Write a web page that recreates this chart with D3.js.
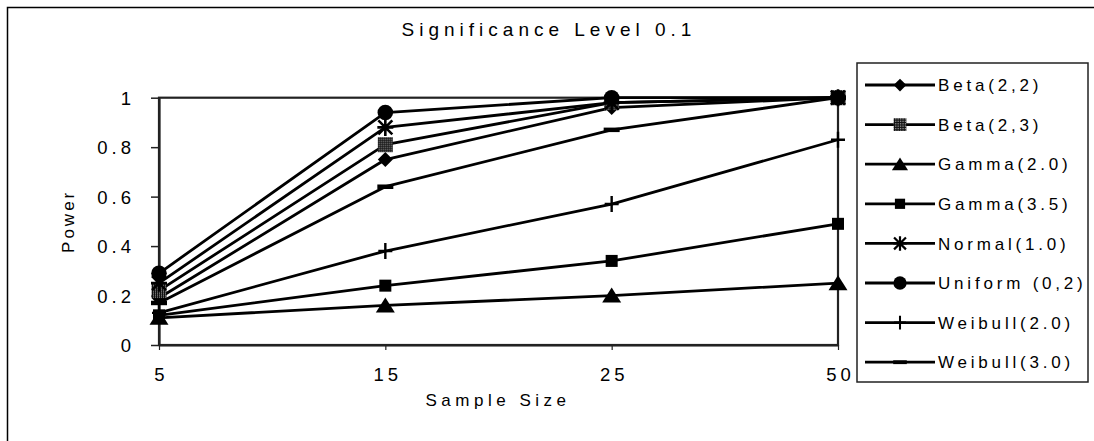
<!DOCTYPE html>
<html><head><meta charset="utf-8">
<script src="https://cdn.jsdelivr.net/npm/d3@7"></script>
<style>
body{margin:0;background:#fff}
svg text{font-family:"Liberation Sans",Arial,sans-serif;fill:#000}
</style>
</head><body>
<svg id="c" width="1094" height="441"></svg>
<script>
// ---- data ----
const categories = ["5", "15", "25", "50"];
const seriesNames = ["Beta(2,2)", "Beta(2,3)", "Gamma(2.0)", "Gamma(3.5)", "Normal(1.0)", "Uniform (0,2)", "Weibull(2.0)", "Weibull(3.0)"];
const beta22    = [0.19, 0.75, 0.96, 1.00];
const beta23    = [0.22, 0.81, 0.98, 1.00];
const gamma20   = [0.11, 0.16, 0.20, 0.25];
const gamma35   = [0.12, 0.24, 0.34, 0.49];
const normal10  = [0.25, 0.88, 0.98, 1.00];
const uniform02 = [0.29, 0.94, 1.00, 1.00];
const weibull20 = [0.13, 0.38, 0.57, 0.83];
const weibull30 = [0.17, 0.64, 0.87, 1.00];
const yTickValues = [0, 0.2, 0.4, 0.6, 0.8, 1];
const yTickLabels = ["0", "0.2", "0.4", "0.6", "0.8", "1"];
const titleText = "Significance Level 0.1";
const xTitle = "Sample Size";
const yTitle = "Power";

const seriesValues = [beta22, beta23, gamma20, gamma35, normal10, uniform02, weibull20, weibull30];
const markerTypes = ["diamond", "patsquare", "triangle", "square", "star", "circle", "plus", "dash"];

// ---- layout ----
const svg = d3.select("#c");
const P = {left: 159, right: 838, top: 97.7, bottom: 345};

const defs = svg.append("defs");
const pat = defs.append("pattern").attr("id", "dith").attr("width", 2).attr("height", 2)
  .attr("patternUnits", "userSpaceOnUse");
pat.append("rect").attr("width", 2).attr("height", 2).attr("fill", "#111");
pat.append("rect").attr("width", 1).attr("height", 1).attr("fill", "#aaa");

// outer chart border (only top and left visible in crop)
svg.append("rect").attr("x", 7.5).attr("y", 7.5).attr("width", 1120).attr("height", 460)
  .attr("fill", "none").attr("stroke", "#000").attr("stroke-width", 1.5);

const x = d3.scalePoint().domain(categories).range([P.left, P.right]);
const y = d3.scaleLinear().domain([0, 1]).range([P.bottom, P.top]);

// plot area border
svg.append("rect").attr("x", P.left).attr("y", P.top)
  .attr("width", P.right - P.left).attr("height", P.bottom - P.top)
  .attr("fill", "none").attr("stroke", "#222").attr("stroke-width", 2.2);

// axes
const yAxis = svg.append("g").attr("transform", `translate(${P.left},0)`)
  .call(d3.axisLeft(y).tickValues(yTickValues).tickFormat((d, i) => yTickLabels[i])
    .tickSize(8).tickSizeOuter(0).tickPadding(16));
yAxis.select(".domain").attr("stroke", "#222").attr("stroke-width", 2.2);
yAxis.selectAll(".tick line").attr("stroke", "#222").attr("stroke-width", 1.5);
yAxis.selectAll(".tick text").attr("font-size", 18.5).style("letter-spacing", "4px")
  .attr("font-family", null).attr("dy", "0.35em");

const xAxis = svg.append("g").attr("transform", `translate(0,${P.bottom})`)
  .call(d3.axisBottom(x).tickSize(5).tickSizeOuter(0).tickPadding(18));
xAxis.select(".domain").attr("stroke", "#222").attr("stroke-width", 2.2);
xAxis.selectAll(".tick line").attr("stroke", "#222").attr("stroke-width", 1.2);
xAxis.selectAll(".tick text").attr("font-size", 18.5).style("letter-spacing", "4px")
  .attr("font-family", null).attr("dx", "2px");

// titles
svg.append("text").attr("x", 549).attr("y", 36).attr("text-anchor", "middle")
  .attr("font-size", 19).style("letter-spacing", "5px").text(titleText);
svg.append("text").attr("x", 498).attr("y", 406).attr("text-anchor", "middle")
  .attr("font-size", 17).style("letter-spacing", "4.5px").text(xTitle);
svg.append("text").attr("transform", `translate(74,${(P.top + P.bottom) / 2}) rotate(-90)`)
  .attr("text-anchor", "middle").attr("font-size", 17).style("letter-spacing", "3px").text(yTitle);

// marker drawing
function drawMarker(g, type, cx, cy, s) {
  const m = g.append("g").attr("transform", `translate(${cx},${cy}) scale(${s})`);
  switch (type) {
    case "diamond":
      m.append("path").attr("d", "M0,-7.5L7.5,0L0,7.5L-7.5,0Z").attr("fill", "#000"); break;
    case "patsquare":
      m.append("rect").attr("x", -7.5).attr("y", -7.5).attr("width", 15).attr("height", 15).attr("fill", "url(#dith)"); break;
    case "triangle":
      m.append("path").attr("d", "M0,-8L9.5,7L-9.5,7Z").attr("fill", "#000"); break;
    case "square":
      m.append("rect").attr("x", -6).attr("y", -6).attr("width", 12).attr("height", 12).attr("fill", "#000"); break;
    case "star":
      m.append("path").attr("d", "M-7,-7L7,7M-7,7L7,-7M0,-8.5L0,8.5M-8,0L8,0").attr("stroke", "#000").attr("stroke-width", 2.6).attr("fill", "none"); break;
    case "circle":
      m.append("circle").attr("r", 7.8).attr("fill", "#000"); break;
    case "plus":
      m.append("path").attr("d", "M0,-8L0,8M-7,0L7,0").attr("stroke", "#000").attr("stroke-width", 2.4); break;
    case "dash":
      m.append("path").attr("d", "M-8,0L8,0").attr("stroke", "#000").attr("stroke-width", 4.5); break;
  }
}

const line = d3.line().x((d, i) => x(categories[i])).y(d => y(d));
const plotG = svg.append("g");
seriesValues.forEach((vals, si) => {
  const g = plotG.append("g");
  g.append("path").datum(vals).attr("d", line).attr("fill", "none")
    .attr("stroke", "#000").attr("stroke-width", 2.8).attr("stroke-linejoin", "round");
  vals.forEach((v, i) => drawMarker(g, markerTypes[si], x(categories[i]), y(v), 1));
});

// legend
const L = {x: 857, y: 63, w: 231, h: 319};
svg.append("rect").attr("x", L.x).attr("y", L.y).attr("width", L.w).attr("height", L.h)
  .attr("fill", "#fff").attr("stroke", "#222").attr("stroke-width", 1.5);
seriesNames.forEach((name, i) => {
  const cy = 85 + i * 39.6;
  const g = svg.append("g");
  g.append("line").attr("x1", 865).attr("x2", 935).attr("y1", cy).attr("y2", cy)
    .attr("stroke", "#000").attr("stroke-width", 2.8);
  drawMarker(g, markerTypes[i], 900, cy, 0.85);
  g.append("text").attr("x", 938).attr("y", cy).attr("dy", "0.36em")
    .attr("font-size", 17).style("letter-spacing", "3.8px").text(name);
});
</script>
</body></html>
